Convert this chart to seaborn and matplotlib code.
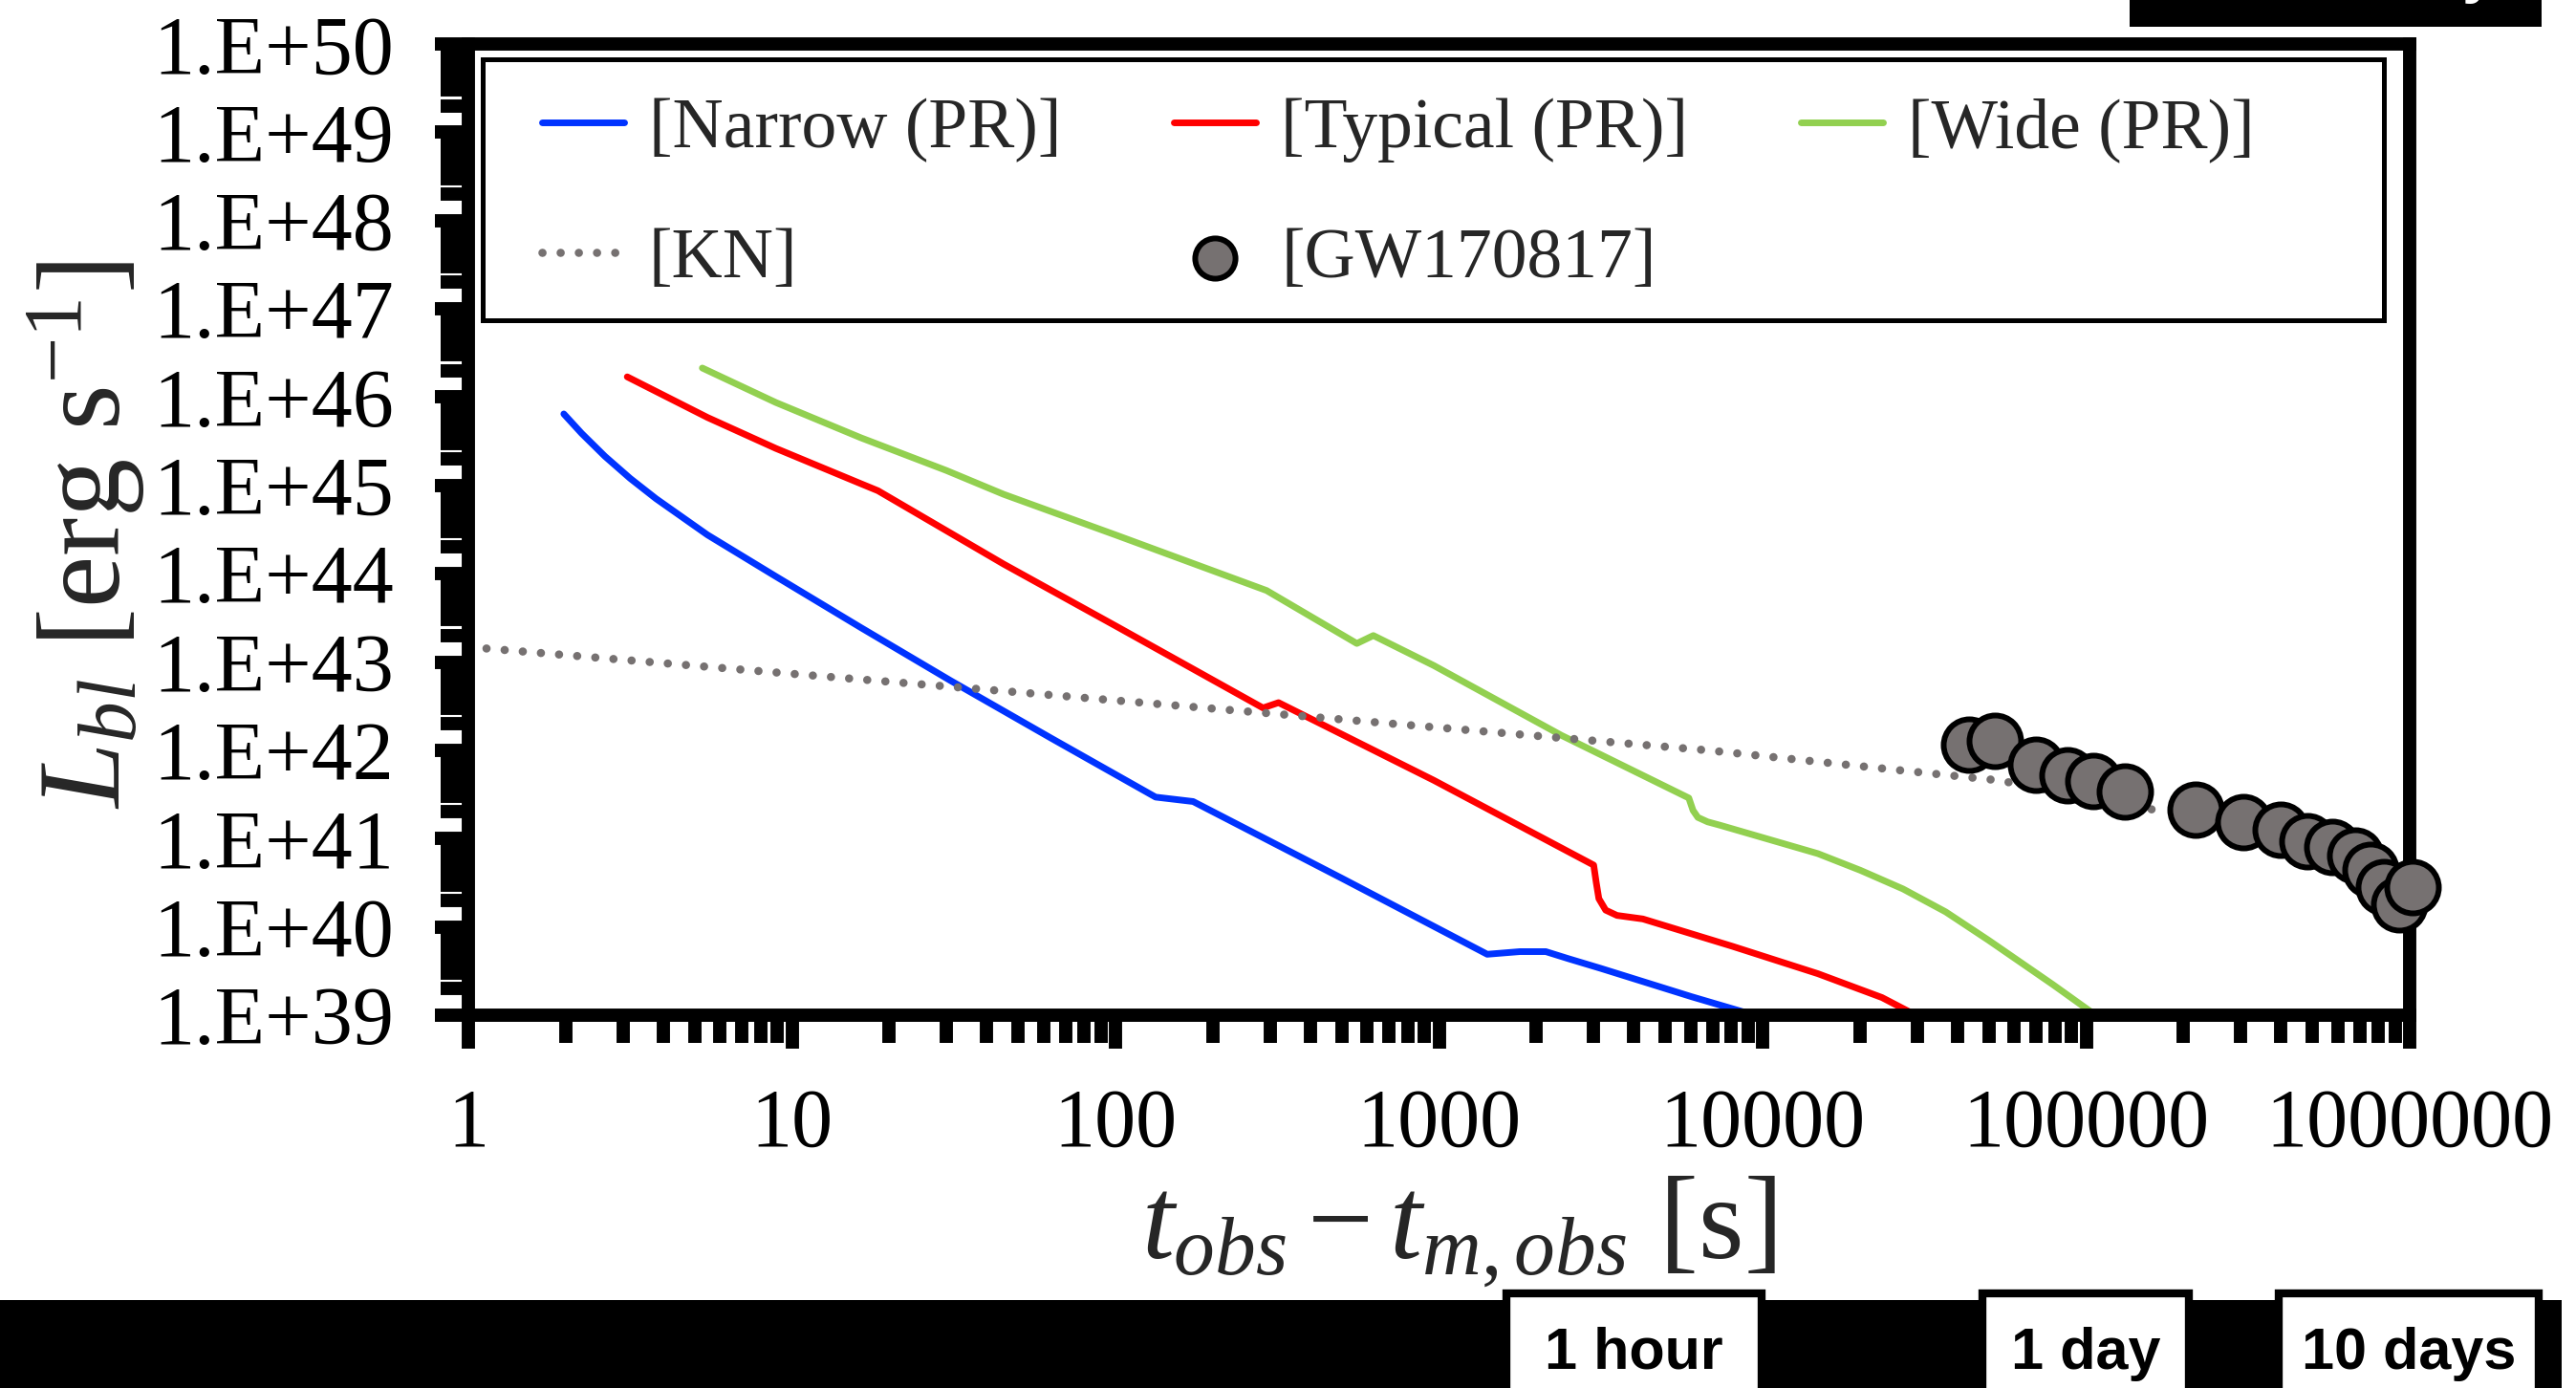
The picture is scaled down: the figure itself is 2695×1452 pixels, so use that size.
import numpy as np
import pandas as pd
import matplotlib
matplotlib.use("Agg")
import matplotlib.pyplot as plt
import seaborn as sns
from matplotlib.patches import Rectangle
from matplotlib.ticker import FixedLocator, FixedFormatter, LogLocator, NullFormatter

# ---------------- data (log10 t [s], log10 L [erg/s]) ----------------
narrow_log_t = [0.295, 0.35, 0.422, 0.50, 0.580, 0.739, 0.950, 1.213, 1.49, 1.80, 2.124, 2.240,
                2.70, 3.149, 3.25, 3.33, 3.40, 3.50, 3.78, 4.04]
narrow_log_L = [45.81, 45.59, 45.33, 45.08, 44.85, 44.44, 43.97, 43.39, 42.79, 42.14, 41.47, 41.42,
                40.55, 39.69, 39.72, 39.72, 39.64, 39.53, 39.21, 38.93]

typical_log_t = [0.491, 0.739, 0.950, 1.213, 1.266, 1.654, 2.0, 2.456, 2.504, 2.984, 3.478,
                 3.486, 3.494, 3.515, 3.55, 3.63, 3.907, 4.171, 4.369, 4.50]
typical_log_L = [46.23, 45.77, 45.42, 45.02, 44.94, 44.11, 43.41, 42.48, 42.54, 41.66, 40.70,
                 40.50, 40.32, 40.19, 40.13, 40.09, 39.78, 39.47, 39.20, 38.95]

wide_log_t = [0.723, 0.950, 1.213, 1.477, 1.654, 2.0, 2.467, 2.746, 2.797, 2.984, 3.378, 3.772,
              3.785, 3.800, 3.83, 3.87, 4.171, 4.303, 4.434, 4.566, 4.698, 4.896, 5.041]
wide_log_L = [46.33, 45.94, 45.54, 45.17, 44.90, 44.44, 43.81, 43.21, 43.30, 42.96, 42.17, 41.46,
              41.32, 41.24, 41.19, 41.15, 40.83, 40.64, 40.43, 40.17, 39.85, 39.35, 38.97]

kn_log_t = [0.0, 0.528, 1.055, 1.625, 2.472, 3.152, 3.831, 4.461, 4.729, 5.233]
kn_log_L = [43.17, 43.01, 42.85, 42.68, 42.42, 42.21, 42.00, 41.76, 41.66, 41.31]

gw_t = [4.345e4, 5.224e4, 6.995e4, 8.754e4, 1.052e5, 1.317e5, 2.18e5, 3.06e5, 3.99e5,
        4.83e5, 5.76e5, 6.79e5, 7.57e5, 8.32e5, 9.27e5, 1.02e6]
gw_L = [1.16e42, 1.28e42, 6.87e41, 5.22e41, 4.50e41, 3.42e41, 2.13e41, 1.54e41, 1.26e41,
        9.35e40, 8.05e40, 6.43e40, 4.42e40, 2.82e40, 1.80e40, 2.82e40]

series_labels = ["[Narrow (PR)]", "[Typical (PR)]", "[Wide (PR)]", "[KN]", "[GW170817]"]

x_ticks = [1, 10, 100, 1000, 10000, 100000, 1000000]
x_tick_labels = ["1", "10", "100", "1000", "10000", "100000", "1000000"]
y_ticks = [1e39, 1e40, 1e41, 1e42, 1e43, 1e44, 1e45, 1e46, 1e47, 1e48, 1e49, 1e50]
y_tick_labels = ["1.E+39", "1.E+40", "1.E+41", "1.E+42", "1.E+43", "1.E+44", "1.E+45",
                 "1.E+46", "1.E+47", "1.E+48", "1.E+49", "1.E+50"]

time_marks = ["1 hour", "1 day", "10 days"]
top_mark = "100 days"

# ---------------- style ----------------
sns.set_style("white")
plt.rcParams["font.family"] = ["Liberation Serif", "DejaVu Serif"]
plt.rcParams["mathtext.fontset"] = "custom"
plt.rcParams["mathtext.rm"] = "Liberation Serif"
plt.rcParams["mathtext.it"] = "Liberation Serif:italic"
plt.rcParams["mathtext.bf"] = "Liberation Serif:bold"

W, H = 2695, 1452
fig = plt.figure(figsize=(W / 100, H / 100), dpi=100)
ax = fig.add_axes([490 / W, 1 - 1062 / H, (2521 - 490) / W, (1062 - 46) / H])
ax.set_xscale("log")
ax.set_yscale("log")


def frame(log_t, log_L):
    return pd.DataFrame({"t": 10.0 ** np.array(log_t), "L": 10.0 ** np.array(log_L)})


GRAY = "#767171"
sns.lineplot(data=frame(narrow_log_t, narrow_log_L), x="t", y="L", color="#0033ff", lw=5,
             label=series_labels[0], estimator=None, sort=False, ax=ax)
sns.lineplot(data=frame(typical_log_t, typical_log_L), x="t", y="L", color="#ff0000", lw=5,
             label=series_labels[1], estimator=None, sort=False, ax=ax)
sns.lineplot(data=frame(wide_log_t, wide_log_L), x="t", y="L", color="#92d050", lw=5,
             label=series_labels[2], estimator=None, sort=False, ax=ax)
sns.lineplot(data=frame(kn_log_t, kn_log_L), x="t", y="L", color=GRAY, lw=6.2,
             linestyle=(0, (0.01, 2.2)), dash_capstyle="round",
             label=series_labels[3], estimator=None, sort=False, ax=ax)
sns.scatterplot(x=gw_t, y=gw_L, s=1513, color=GRAY, edgecolor="black", linewidth=4.3,
                zorder=5, clip_on=False, label=series_labels[4], ax=ax)

ax.set_xlim(1, 1e6)
ax.set_ylim(1e39, 1e50)

# ticks
ax.xaxis.set_major_locator(FixedLocator(x_ticks))
ax.xaxis.set_major_formatter(FixedFormatter(x_tick_labels))
ax.yaxis.set_major_locator(FixedLocator(y_ticks))
ax.yaxis.set_major_formatter(FixedFormatter(y_tick_labels))
for axis in (ax.xaxis, ax.yaxis):
    axis.set_minor_locator(LogLocator(base=10, subs=(2, 3, 4, 5, 6, 7, 8, 9), numticks=100))
    axis.set_minor_formatter(NullFormatter())

ax.tick_params(which="major", direction="out", length=25, width=10, color="black",
               labelsize=62, labelcolor="black", top=False, right=False,
               bottom=True, left=True)
ax.tick_params(axis="x", which="major", pad=30)
ax.tick_params(axis="y", which="major", pad=31)
ax.tick_params(which="minor", direction="out", length=21, width=10, color="black",
               top=False, right=False, bottom=True, left=True)

for sp in ax.spines.values():
    sp.set_linewidth(10)
    sp.set_color("black")
    sp.set_visible(True)

# axis labels
ax.set_xlabel(r"$t_{obs} - t_{m,obs}$ [s]", fontsize=88)
ax.xaxis.set_label_coords(0.51, -0.223)
ax.xaxis.label.set_va("center")
ax.set_ylabel(r"$L_{bl}$ [erg s$^{-1}$]", fontsize=88)
ax.yaxis.set_label_coords(-0.197, 0.495)
ax.yaxis.label.set_va("center")

# legend
hs, ls = ax.get_legend_handles_labels()
hmap = dict(zip(ls, hs))
order = [series_labels[0], series_labels[3], series_labels[1], series_labels[4], series_labels[2]]
leg = ax.legend([hmap[k] for k in order], order, ncol=3, loc="upper left",
                bbox_to_anchor=(0.0379, 0.9449), borderaxespad=0, borderpad=0,
                frameon=False, fontsize=53, handlelength=1.17, handletextpad=0.35,
                columnspacing=1.60, labelspacing=0.93, markerscale=0.78)
leg.set_zorder(7)
ax.add_patch(Rectangle((0.0074, 0.7156), 0.9793, 0.2687, transform=ax.transAxes,
                       fill=False, lw=3.6, ec="black", zorder=6, clip_on=False))

# bottom time band
fig.add_artist(Rectangle((0, 0), 2680 / W, 92 / H, transform=fig.transFigure,
                         facecolor="black", edgecolor="none", zorder=1))
boxes = [(1576, 1843), (2074, 2290), (2384, 2656)]
for (x0, x1), txt in zip(boxes, time_marks):
    fig.add_artist(Rectangle((x0 / W, -10 / H), (x1 - x0) / W, (1452 - 1353 + 10) / H,
                             transform=fig.transFigure, facecolor="white",
                             edgecolor="black", lw=6, zorder=2))
    fig.text((x0 + x1) / 2 / W, 20 / H, txt, ha="center", va="baseline",
             fontsize=44, fontweight="bold", family=["Liberation Sans", "DejaVu Sans"],
             color="black", zorder=3)

# top-right cut-off box
fig.add_artist(Rectangle((2228 / W, (H - 28) / H), 431 / W, 40 / H, transform=fig.transFigure,
                         facecolor="black", edgecolor="none", zorder=1))
fig.text(2644 / W, 1 + 9 / H, top_mark, ha="right", va="baseline", fontsize=44,
         fontweight="bold", family=["Liberation Sans", "DejaVu Sans"], color="white", zorder=3)

fig.savefig("out.png", dpi=100)
